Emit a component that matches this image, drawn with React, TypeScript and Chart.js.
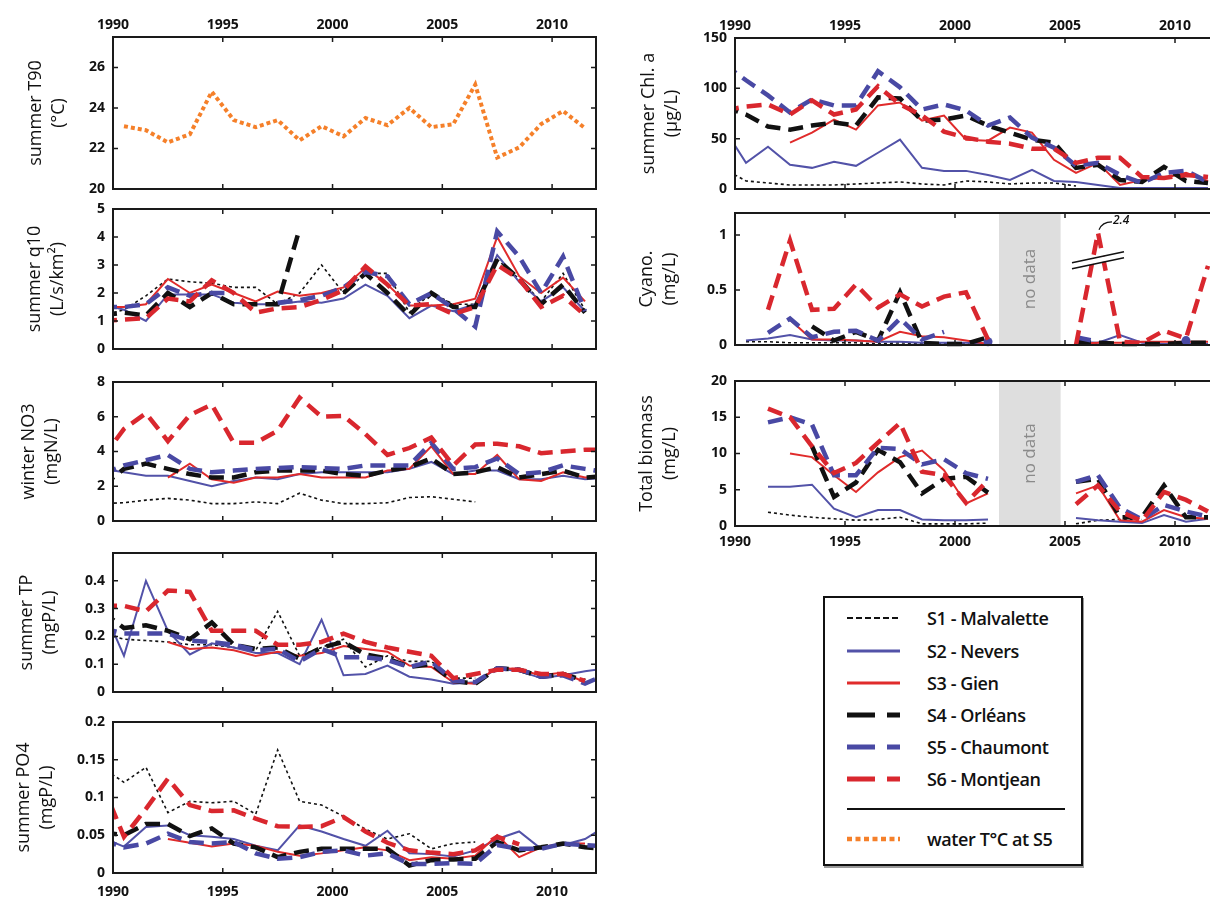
import React, { useEffect, useRef } from "react";
import { Chart, registerables } from "chart.js";

Chart.register(...registerables);

const _ = null;

// ---- years (points plotted at mid-year) ----
const YEARS = [1989, 1990, 1991, 1992, 1993, 1994, 1995, 1996, 1997, 1998, 1999, 2000, 2001, 2002, 2003, 2004, 2005, 2006, 2007, 2008, 2009, 2010, 2011, 2012];
const X_TICKS = [1990, 1995, 2000, 2005, 2010];
const NO_DATA_FROM = 2002.0;
const NO_DATA_TO = 2004.8;

// ---- summer T90 (°C), water T°C at S5 ----
const T90 = [_, 23.1, 22.9, 22.3, 22.7, 24.8, 23.4, 23.05, 23.4, 22.4, 23.1, 22.6, 23.5, 23.15, 24.0, 23.05, 23.2, 25.15, 21.55, 22.05, 23.2, 23.85, 23.0, _];

// ---- summer q10 (L/s/km2) ----
const Q10_S1 = [1.2, 1.4, 1.9, 2.5, 2.4, 2.35, 2.2, 2.2, 1.6, 2.0, 3.0, 2.0, 2.7, 2.7, 1.3, 2.0, 1.6, 1.6, 3.2, 2.5, 1.7, 2.7, 1.4, _];
const Q10_S2 = [1.6, 1.4, 1.0, 1.95, 1.95, 1.95, 1.65, 1.6, 1.6, 1.7, 1.65, 1.8, 2.3, 1.9, 1.1, 1.55, 1.35, 1.6, 3.35, 2.4, 1.7, 2.2, 1.35, _];
const Q10_S3 = [1.5, 1.5, 1.6, 2.5, 2.0, 2.3, 2.0, 1.7, 2.05, 1.9, 2.0, 2.2, 2.9, 2.3, 1.55, 1.55, 1.6, 1.8, 4.0, 2.6, 2.0, 2.55, 1.7, _];
const Q10_S4 = [1.2, 1.3, 1.2, 2.0, 1.5, 2.0, 1.6, 1.6, 1.6, 4.3, _, 2.0, 2.7, 2.0, 1.2, 2.0, 1.5, 1.5, 3.2, 2.5, 1.6, 2.3, 1.3, _];
const Q10_S5 = [1.5, 1.5, 1.6, 2.2, 1.9, 2.0, 2.0, _, 1.65, 1.75, 1.9, 2.2, 2.75, 2.6, 1.6, 2.0, 1.45, 0.8, 4.2, 3.3, 2.0, 3.3, 1.35, _];
const Q10_S6 = [1.0, 1.05, 1.1, 1.8, 1.7, 2.45, 2.0, 1.3, 1.45, 1.5, 1.75, 2.1, 2.95, 2.3, 1.55, 1.6, 1.25, 1.5, 3.0, 2.5, 1.5, 1.9, 1.2, _];

// ---- winter NO3 (mgN/L) ----
const NO3_S1 = [1.0, 1.05, 1.2, 1.3, 1.2, 1.0, 1.0, 1.1, 1.0, 1.6, 1.2, 1.0, 1.0, 1.05, 1.35, 1.4, 1.25, 1.1, _, _, _, _, _, _];
const NO3_S2 = [3.0, 2.8, 2.6, 2.6, 2.3, 2.0, 2.3, 2.5, 2.4, 2.7, 2.8, 2.8, 2.8, 2.8, 3.0, 3.4, 2.7, 2.9, 2.9, 2.4, 2.4, 2.6, 2.4, 2.5];
const NO3_S3 = [_, _, _, 2.5, 3.3, 2.4, 2.2, 2.5, 2.5, 2.7, 2.5, 2.5, 2.5, 2.9, 3.0, 4.3, 2.7, 2.7, 3.8, 2.4, 2.3, 2.8, 2.5, 2.6];
const NO3_S4 = [2.0, 3.0, 3.3, 3.0, 2.7, 2.5, 2.5, 2.8, 2.9, 2.9, 2.9, 2.7, 2.6, 2.9, 3.1, 3.6, 2.7, 2.8, 3.1, 2.5, 2.7, 2.9, 2.5, 2.6];
const NO3_S5 = [2.7, 3.2, 3.5, 3.8, 3.0, 2.8, 2.9, 3.0, 3.05, 3.1, 3.05, 3.0, 3.2, 3.2, 3.2, 4.5, 3.0, 3.1, 3.6, 2.7, 2.8, 3.2, 3.0, 2.8];
const NO3_S6 = [3.6, 5.3, 6.2, 4.6, 6.1, 6.7, 4.5, 4.5, 5.2, 7.1, 6.0, 6.05, 5.0, 3.8, 4.2, 4.8, 3.2, 4.4, 4.45, 4.3, 3.9, 4.0, 4.1, 4.1];

// ---- summer TP (mgP/L) ----
const TP_S1 = [0.21, 0.19, 0.185, 0.18, 0.17, 0.17, 0.16, 0.15, 0.29, 0.13, 0.16, 0.19, 0.09, 0.13, 0.11, 0.11, 0.05, 0.05, _, _, _, _, _, _];
const TP_S2 = [0.31, 0.13, 0.40, 0.22, 0.135, 0.175, 0.16, 0.14, 0.14, 0.10, 0.26, 0.06, 0.065, 0.095, 0.055, 0.045, 0.03, 0.035, 0.085, 0.075, 0.05, 0.06, 0.075, 0.085];
const TP_S3 = [_, _, _, 0.18, 0.155, 0.16, 0.15, 0.13, 0.145, 0.13, 0.14, 0.165, 0.155, 0.145, 0.095, 0.09, 0.035, 0.03, 0.09, 0.08, 0.06, 0.07, 0.035, _];
const TP_S4 = [0.29, 0.23, 0.24, 0.22, 0.19, 0.25, 0.17, 0.155, 0.16, 0.12, 0.16, 0.18, 0.135, 0.12, 0.09, 0.10, 0.04, 0.03, 0.085, 0.08, 0.055, 0.065, 0.04, _];
const TP_S5 = [0.23, 0.21, 0.21, 0.21, 0.185, 0.18, 0.17, 0.15, 0.155, 0.11, 0.155, 0.125, 0.125, 0.115, 0.09, 0.11, 0.04, 0.035, 0.085, 0.08, 0.055, 0.06, 0.03, 0.065];
const TP_S6 = [0.31, 0.31, 0.29, 0.365, 0.36, 0.22, 0.22, 0.22, 0.17, 0.17, 0.18, 0.21, 0.18, 0.16, 0.145, 0.13, 0.05, 0.065, 0.08, 0.08, 0.065, 0.065, 0.04, _];

// ---- summer PO4 (mgP/L) ----
const PO4_S1 = [0.14, 0.12, 0.14, 0.08, 0.095, 0.093, 0.095, 0.078, 0.163, 0.095, 0.09, 0.075, 0.058, 0.045, 0.052, 0.032, 0.039, 0.041, _, _, _, _, _, _];
const PO4_S2 = [0.047, 0.035, 0.061, 0.063, 0.05, 0.048, 0.045, 0.036, 0.03, 0.063, 0.055, 0.045, 0.036, 0.056, 0.026, 0.025, 0.022, 0.03, 0.045, 0.055, 0.032, 0.037, 0.045, 0.063];
const PO4_S3 = [_, _, _, 0.045, 0.04, 0.035, 0.039, 0.036, 0.028, 0.023, 0.026, 0.03, 0.034, 0.03, 0.017, 0.021, 0.019, 0.023, 0.05, 0.021, 0.034, 0.039, 0.039, _];
const PO4_S4 = [0.054, 0.05, 0.065, 0.065, 0.049, 0.059, 0.039, 0.034, 0.021, 0.028, 0.032, 0.032, 0.032, 0.032, 0.01, 0.017, 0.018, 0.019, 0.041, 0.03, 0.034, 0.039, 0.034, 0.032];
const PO4_S5 = [0.044, 0.034, 0.039, 0.052, 0.041, 0.039, 0.041, 0.026, 0.019, 0.021, 0.028, 0.03, 0.023, 0.026, 0.012, 0.012, 0.013, 0.012, 0.037, 0.032, 0.032, 0.039, 0.037, 0.035];
const PO4_S6 = [0.118, 0.048, 0.085, 0.125, 0.09, 0.082, 0.083, 0.072, 0.062, 0.061, 0.062, 0.074, 0.055, 0.04, 0.03, 0.027, 0.025, 0.03, 0.048, 0.038, _, _, _, _];

// ---- summer Chl. a (µg/L) ----
const CHL_S1 = [20, 8, 6, 4, 4, 4, 5, 6, 7, 5, 4, 8, 7, 5, 6, 6, 3, _, _, _, _, _, _, _];
const CHL_S2 = [60, 26, 42, 24, 21, 27, 23, 36, 49, 21, 18, 18, 14, 9, 19, 8, 7, 4, 1, 1, 1, 1, 1, _];
const CHL_S3 = [_, _, _, 46, 56, 69, 59, 83, 86, 68, 73, 49, 48, 61, 56, 29, 16, 26, 4, 9, 11, 16, 8, _];
const CHL_S4 = [82, 74, 62, 59, 63, 66, 63, 91, 90, 68, 69, 73, 63, 56, 49, 46, 21, 24, 9, 7, 22, 8, 6, _];
const CHL_S5 = [124, 108, 93, 76, 89, 83, 83, 117, 101, 79, 84, 78, 63, 71, 51, 41, 23, 26, 14, 6, 16, 18, 7, _];
const CHL_S6 = [78, 82, 84, 74, 88, 74, 79, 102, 84, 73, 57, 51, 47, 45, 40, 40, 26, 31, 31, 12, 11, 14, 12, _];

// ---- Cyano. (mg/L) ----
const CYANO_S1 = [_, 0.03, 0.03, 0.02, 0.02, 0.02, 0.02, 0.01, 0.02, 0.01, 0.01, 0.01, 0.01, _, _, _, 0.01, 0.01, _, _, _, _, _, _];
const CYANO_S2 = [_, 0.04, 0.06, 0.09, 0.05, 0.04, 0.04, 0.03, 0.03, 0.02, 0.02, 0.02, 0.01, _, _, _, 0.03, 0.02, 0.09, 0.02, 0.01, 0.01, 0.01, _];
const CYANO_S3 = [_, _, _, 0.23, 0.05, 0.05, 0.04, 0.03, 0.12, 0.08, 0.07, 0.04, 0.01, _, _, _, 0.01, 0.02, 0.02, 0.03, 0.03, 0.03, 0.03, _];
const CYANO_S4 = [_, _, _, _, 0.17, 0.04, 0.12, 0.04, 0.48, 0.02, 0.01, 0.01, 0.07, _, _, _, 0.03, 0.02, 0.01, 0.01, 0.01, 0.02, 0.02, _];
const CYANO_S5 = [_, _, 0.11, 0.24, 0.07, 0.12, 0.13, 0.04, 0.24, 0.05, 0.12, _, 0.03, _, _, _, 0.07, 0.03, _, _, _, 0.04, _, _];
// 2006 value is off-scale (2.4 mg/L); it is drawn at the broken-axis position
const CYANO_S6 = [_, _, 0.32, 0.95, 0.32, 0.33, 0.55, 0.34, 0.46, 0.35, 0.44, 0.48, 0.05, _, _, _, 0.0, 1.02, 0.03, 0.02, 0.13, 0.06, 0.72, _];
const CYANO_S6_TRUE_PEAK = 2.4;
const CYANO_S6_PEAK_YEAR = 2006;

// ---- Total biomass (mg/L) ----
const BIO_S1 = [_, _, 1.9, 1.5, 1.2, 1.0, 0.8, 0.9, 1.2, 0.3, 0.3, 0.3, 0.4, _, _, _, 0.3, 0.8, 0.9, 0.9, _, _, _, _];
const BIO_S2 = [_, _, 5.4, 5.4, 5.7, 2.4, 1.2, 2.2, 2.2, 0.9, 0.8, 0.8, 0.9, _, _, _, 1.1, 0.8, 0.6, 0.4, 1.5, 0.6, 1.0, _];
const BIO_S3 = [_, _, _, 10.0, 9.5, 7.0, 4.7, 7.4, 9.5, 10.4, 7.7, 3.1, 4.5, _, _, _, 4.5, 5.6, 0.8, 0.6, 2.2, 1.2, 1.0, _];
const BIO_S4 = [_, _, _, _, 11.0, 4.0, 6.0, 10.5, 8.8, 4.5, 6.5, 6.8, 4.6, _, _, _, 6.1, 6.5, 1.2, 1.2, 5.6, 1.2, 1.2, _];
const BIO_S5 = [_, _, 14.3, 15.0, 14.0, 7.0, 7.0, 10.8, 10.6, 8.5, 9.2, 7.3, 6.5, _, _, _, 6.1, 7.0, 2.5, 0.9, 2.9, 2.0, 1.3, _];
const BIO_S6 = [_, _, 16.2, 15.0, 11.0, 7.3, 8.7, 11.5, 14.2, 7.5, 7.0, 3.2, 6.3, _, _, _, 3.0, 5.6, 2.0, 0.7, 4.7, 3.6, 2.0, _];

// ---- styles ----
const FONT = '"Open Sans", "Noto Sans", sans-serif';
type St = { color: string; width: number; dash: number[] };
const STYLES: Record<string, St> = {
  S1: { color: "#111111", width: 1.6, dash: [3, 3] },
  S2: { color: "#5252a8", width: 2, dash: [] },
  S3: { color: "#e02b2b", width: 2, dash: [] },
  S4: { color: "#111111", width: 4.5, dash: [15, 8] },
  S5: { color: "#4949a4", width: 4.5, dash: [15, 8] },
  S6: { color: "#d9272e", width: 4.5, dash: [15, 8] },
  T: { color: "#f5802a", width: 4, dash: [4, 3] },
};

type Series = { data: (number | null)[]; st: string };
type Panel = {
  id: string;
  col: "L" | "R";
  rect: [number, number, number, number];
  yMin: number;
  yMax: number;
  yTicks: number[];
  title: string[];
  titleX: number;
  xLabels: "top" | "bottom" | "none";
  series: Series[];
  noData?: boolean;
  breakMark?: boolean;
};

const six = (a: any[], b: any[], c: any[], d: any[], e: any[], f: any[]): Series[] => [
  { data: a, st: "S1" },
  { data: b, st: "S2" },
  { data: c, st: "S3" },
  { data: d, st: "S4" },
  { data: e, st: "S5" },
  { data: f, st: "S6" },
];

const PANELS: Panel[] = [
  { id: "t90", col: "L", rect: [113, 37, 596, 189], yMin: 20, yMax: 27.5, yTicks: [20, 22, 24, 26], title: ["summer T90", "(°C)"], titleX: 36, xLabels: "top", series: [{ data: T90, st: "T" }] },
  { id: "q10", col: "L", rect: [113, 209, 596, 361], yMin: 0, yMax: 5, yTicks: [0, 1, 2, 3, 4, 5], title: ["summer q10", "(L/s/km²)"], titleX: 35, xLabels: "none", series: six(Q10_S1, Q10_S2, Q10_S3, Q10_S4, Q10_S5, Q10_S6) },
  { id: "no3", col: "L", rect: [113, 382, 596, 533], yMin: 0, yMax: 8, yTicks: [0, 2, 4, 6, 8], title: ["winter NO3", "(mgN/L)"], titleX: 29, xLabels: "none", series: six(NO3_S1, NO3_S2, NO3_S3, NO3_S4, NO3_S5, NO3_S6) },
  { id: "tp", col: "L", rect: [113, 553, 596, 704], yMin: 0, yMax: 0.5, yTicks: [0, 0.1, 0.2, 0.3, 0.4], title: ["summer TP", "(mgP/L)"], titleX: 27, xLabels: "none", series: six(TP_S1, TP_S2, TP_S3, TP_S4, TP_S5, TP_S6) },
  { id: "po4", col: "L", rect: [113, 722, 596, 873], yMin: 0, yMax: 0.2, yTicks: [0, 0.05, 0.1, 0.15, 0.2], title: ["summer PO4", "(mgP/L)"], titleX: 24, xLabels: "bottom", series: six(PO4_S1, PO4_S2, PO4_S3, PO4_S4, PO4_S5, PO4_S6) },
  { id: "chl", col: "R", rect: [735, 38, 1219, 189], yMin: 0, yMax: 150, yTicks: [0, 50, 100, 150], title: ["summer Chl. a", "(µg/L)"], titleX: 649, xLabels: "top", series: six(CHL_S1, CHL_S2, CHL_S3, CHL_S4, CHL_S5, CHL_S6) },
  { id: "cyano", col: "R", rect: [735, 213, 1219, 357], yMin: 0, yMax: 1.2, yTicks: [0, 0.5, 1], title: ["Cyano.", "(mg/L)"], titleX: 647, xLabels: "none", series: six(CYANO_S1, CYANO_S2, CYANO_S3, CYANO_S4, CYANO_S5, CYANO_S6), noData: true, breakMark: true },
  { id: "bio", col: "R", rect: [735, 381, 1219, 526], yMin: 0, yMax: 20, yTicks: [0, 5, 10, 15, 20], title: ["Total biomass", "(mg/L)"], titleX: 647, xLabels: "bottom", series: six(BIO_S1, BIO_S2, BIO_S3, BIO_S4, BIO_S5, BIO_S6), noData: true },
];

const LEGEND_ITEMS = [
  { label: "S1 - Malvalette", st: "S1" },
  { label: "S2 - Nevers", st: "S2" },
  { label: "S3 - Gien", st: "S3" },
  { label: "S4 - Orléans", st: "S4" },
  { label: "S5 - Chaumont", st: "S5" },
  { label: "S6 - Montjean", st: "S6" },
];
const LEGEND_EXTRA = { label: "water T°C at S5", st: "T" };

function geom(p: Panel) {
  const [L, T, R, B] = p.rect;
  const cx = p.col === "L" ? 0 : 610;
  const topH = p.xLabels === "top" ? 35 : 12;
  const botH = p.xLabels === "bottom" ? 30 : 12;
  return { cx, cy: T - topH, cw: R - cx + 6, ch: B - T + topH + botH, topH, botH, yW: L - cx };
}

const decorPlugin = {
  id: "decor",
  beforeDatasetsDraw(chart: any, _a: any, opts: any) {
    if (!opts.noData) return;
    const { ctx, chartArea: a } = chart;
    const x = chart.scales.x;
    const x0 = x.getPixelForValue(NO_DATA_FROM);
    const x1 = x.getPixelForValue(NO_DATA_TO);
    ctx.save();
    ctx.fillStyle = "#dedede";
    ctx.fillRect(x0, a.top, x1 - x0, a.bottom - a.top);
    ctx.translate((x0 + x1) / 2, (a.top + a.bottom) / 2);
    ctx.rotate(-Math.PI / 2);
    ctx.fillStyle = "#8a8a8a";
    ctx.font = `17px ${FONT}`;
    ctx.textAlign = "center";
    ctx.textBaseline = "middle";
    ctx.fillText("no data", 0, 0);
    ctx.restore();
  },
  afterDatasetsDraw(chart: any, _a: any, opts: any) {
    const { ctx, chartArea: a } = chart;
    const x = chart.scales.x;
    const y = chart.scales.y;
    ctx.save();
    if (opts.breakMark) {
      const j = YEARS.indexOf(CYANO_S6_PEAK_YEAR);
      const px = x.getPixelForValue(CYANO_S6_PEAK_YEAR + 0.5);
      const py = y.getPixelForValue(CYANO_S6[j] as number);
      const ax = px - 26, ay = py + 30, bx = px + 26, by = py + 19;
      ctx.strokeStyle = "#ffffff";
      ctx.lineWidth = 5;
      ctx.beginPath();
      ctx.moveTo(ax, ay + 3);
      ctx.lineTo(bx, by + 3);
      ctx.stroke();
      ctx.strokeStyle = "#111111";
      ctx.lineWidth = 1.5;
      ctx.beginPath();
      ctx.moveTo(ax, ay);
      ctx.lineTo(bx, by);
      ctx.moveTo(ax, ay + 6);
      ctx.lineTo(bx, by + 6);
      ctx.stroke();
      ctx.lineWidth = 1.2;
      ctx.beginPath();
      ctx.moveTo(px + 1, py - 3);
      ctx.quadraticCurveTo(px + 4, py - 11, px + 14, py - 11);
      ctx.stroke();
      ctx.fillStyle = "#111111";
      ctx.font = `italic 600 12px ${FONT}`;
      ctx.textAlign = "left";
      ctx.textBaseline = "middle";
      ctx.fillText(String(CYANO_S6_TRUE_PEAK), px + 15, py - 12);
    }
    // inward ticks and frame
    ctx.strokeStyle = "#1a1a1a";
    ctx.lineWidth = 1.5;
    ctx.beginPath();
    for (const v of X_TICKS) {
      const px = x.getPixelForValue(v);
      if (px <= a.left + 2 || px >= a.right - 2) continue;
      ctx.moveTo(px, a.top);
      ctx.lineTo(px, a.top + 5);
      ctx.moveTo(px, a.bottom);
      ctx.lineTo(px, a.bottom - 5);
    }
    for (const t of y.ticks) {
      const py = y.getPixelForValue(t.value);
      if (py <= a.top + 2 || py >= a.bottom - 2) continue;
      ctx.moveTo(a.left, py);
      ctx.lineTo(a.left + 5, py);
      ctx.moveTo(a.right, py);
      ctx.lineTo(a.right - 5, py);
    }
    ctx.stroke();
    ctx.lineWidth = 2;
    ctx.strokeRect(a.left, a.top, a.right - a.left, a.bottom - a.top);
    ctx.restore();
  },
};

function PanelChart({ p }: { p: Panel }) {
  const ref = useRef<HTMLCanvasElement>(null);
  const g = geom(p);
  useEffect(() => {
    if (!ref.current) return;
    const tickFont = { family: FONT, size: 14, weight: "700" as any };
    const titleLH = 23;
    const datasets = p.series.map((s, k) => {
      const st = STYLES[s.st];
      const d = s.data;
      return {
        data: YEARS.map((yr, i) => ({ x: yr + 0.5, y: d[i] })),
        borderColor: st.color,
        backgroundColor: st.color,
        borderWidth: st.width,
        borderDash: st.dash,
        borderCapStyle: "butt" as const,
        pointRadius: (c: any) => {
          const i = c.dataIndex;
          return d[i] != null && d[i - 1] == null && d[i + 1] == null ? 4.5 : 0;
        },
        pointBorderWidth: 0,
        pointHoverRadius: 0,
        tension: 0,
        fill: false,
        spanGaps: false,
        clip: { left: 0, right: 0, top: 4, bottom: 4 } as any,
        order: 10 - k,
      };
    });
    const chart = new Chart(ref.current, {
      type: "line",
      data: { datasets: datasets as any },
      options: {
        animation: false,
        responsive: false,
        maintainAspectRatio: false,
        events: [],
        layout: {
          padding: {
            left: 0,
            right: 6,
            top: p.xLabels === "top" ? 0 : g.topH,
            bottom: p.xLabels === "bottom" ? 0 : g.botH,
          },
        },
        plugins: {
          legend: { display: false },
          tooltip: { enabled: false },
          decor: { noData: !!p.noData, breakMark: !!p.breakMark },
        } as any,
        scales: {
          x: {
            type: "linear",
            min: 1990,
            max: 2012,
            position: p.xLabels === "top" ? "top" : "bottom",
            grid: { display: false, drawTicks: false },
            border: { display: false },
            ticks: {
              display: p.xLabels !== "none",
              padding: p.xLabels === "top" ? 4 : p.id === "po4" ? 11 : 8,
              font: tickFont,
              color: "#111",
              maxRotation: 0,
              autoSkip: false,
              callback: (v: any) => String(v),
            },
            afterBuildTicks: (s: any) => {
              s.ticks = X_TICKS.map((v) => ({ value: v }));
            },
            afterFit: (s: any) => {
              s.height = p.xLabels === "top" ? g.topH : g.botH;
              s.paddingLeft = 0;
              s.paddingRight = 0;
            },
          },
          y: {
            type: "linear",
            min: p.yMin,
            max: p.yMax,
            grid: { display: false, drawTicks: false },
            border: { display: false },
            ticks: {
              padding: 8,
              font: tickFont,
              color: "#111",
              autoSkip: false,
              callback: (v: any) => String(v),
            },
            title: {
              display: true,
              text: p.title,
              color: "#111",
              font: { family: FONT, size: 18, lineHeight: titleLH / 18 },
              padding: { top: p.titleX - g.cx - titleLH / 2, bottom: 0 },
            },
            afterBuildTicks: (s: any) => {
              s.ticks = p.yTicks.map((v) => ({ value: v }));
            },
            afterFit: (s: any) => {
              s.width = g.yW;
              s.paddingTop = 0;
              s.paddingBottom = 0;
            },
          },
        },
      } as any,
      plugins: [decorPlugin as any],
    });
    return () => chart.destroy();
  }, []);
  return (
    <canvas
      ref={ref}
      width={g.cw}
      height={g.ch}
      style={{ position: "absolute", left: g.cx, top: g.cy, width: g.cw, height: g.ch }}
    />
  );
}

function Sample({ st }: { st: string }) {
  const s = STYLES[st];
  let dash = "";
  let w = s.width;
  if (st === "S1") { dash = "6 3"; w = 2; }
  else if (st === "S4" || st === "S5" || st === "S6") { dash = "28 12"; w = 5; }
  else if (st === "T") { dash = "5 3.5"; w = 4.5; }
  else { w = 3; }
  return (
    <svg width={53} height={10} style={{ position: "absolute", left: 22, top: 7 }}>
      <line x1={0} y1={5} x2={53} y2={5} stroke={s.color} strokeWidth={w} strokeDasharray={dash || undefined} />
    </svg>
  );
}

function Legend() {
  const BOX_T = 596;
  const rowCenters = [618, 651, 683, 715, 747, 779];
  const row = (label: string, st: string, c: number) => (
    <div key={label} style={{ position: "absolute", left: 0, top: c - BOX_T - 2 - 12, width: 250, height: 24 }}>
      <Sample st={st} />
      <div style={{ position: "absolute", left: 102, top: 0, lineHeight: "24px", fontSize: 18, fontWeight: 600, color: "#111", whiteSpace: "nowrap", letterSpacing: -0.4 }}>
        {label}
      </div>
    </div>
  );
  return (
    <div
      style={{
        position: "absolute",
        left: 823,
        top: BOX_T,
        width: 260,
        height: 270,
        boxSizing: "border-box",
        border: "2px solid #111",
        boxShadow: "1px 2px 0 #9a9a9a",
        background: "#fff",
        fontFamily: FONT,
      }}
    >
      {LEGEND_ITEMS.map((it, i) => row(it.label, it.st, rowCenters[i]))}
      <div style={{ position: "absolute", left: 22, top: 809 - BOX_T - 2 - 1, width: 218, height: 2, background: "#111" }} />
      {row(LEGEND_EXTRA.label, LEGEND_EXTRA.st, 839)}
    </div>
  );
}

export default function App() {
  return (
    <div style={{ position: "fixed", left: 0, top: 0, width: 1210, height: 899, overflow: "hidden", background: "#fff" }}>
      {PANELS.map((p) => (
        <PanelChart key={p.id} p={p} />
      ))}
      <Legend />
    </div>
  );
}
